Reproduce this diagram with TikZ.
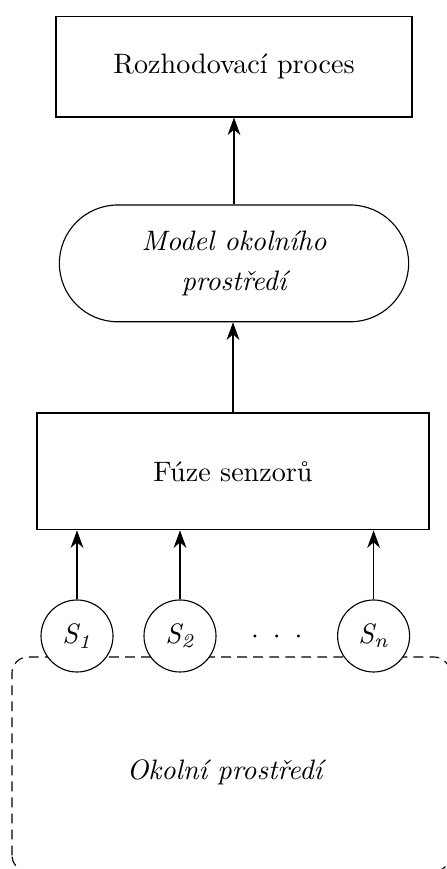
\documentclass[tikz,border=0pt]{standalone}
\usepackage{fontspec}
\usetikzlibrary{arrows.meta,shapes.misc}
\tikzset{
  blok/.style={draw, rectangle, minimum width=#1, minimum height=1.46cm, inner sep=0pt},
  senzor/.style={draw, circle, fill=white, minimum size=0.9cm, inner sep=0pt},
  sipka/.style={-{Stealth[length=2.2mm, width=1.6mm, inset=0.7mm]}}
}
\begin{document}
\begin{tikzpicture}
\useasboundingbox (0,0) rectangle (5.575,10.8625);
% okoli
\draw[dashed, dash pattern=on 3.5pt off 2.2pt, rounded corners=0.2cm] (0.15,-0.03) rectangle (5.625,2.65);
\node (okoli) at (2.83,1.21) {\textit{Okolní prostředí}};
% bloky
\node[blok=4.45cm, minimum height=1.26cm] (rozhod) at (2.925,10.03) {Rozhodovací proces};
\node[draw, rounded rectangle, minimum width=4.6cm, minimum height=1.46cm, align=center, font=\itshape] (model) at (2.925,7.57) {Model okolního\\[2pt]prostředí};
\node[blok=4.9cm] (fuze) at (2.9125,4.97) {Fúze senzorů};
\draw[sipka] (model.north) -- (rozhod.south);
\draw[sipka] (fuze.north) -- (fuze.north |- model.south);
% senzory
\foreach \x/\i in {0.9625/1, 2.25/2, 4.67/n} {
  \node[senzor] (s\i) at (\x,2.9125) {\textit{S\textsubscript{\i}}};
  \draw[sipka] (s\i.north) -- (s\i |- fuze.south);
}
\node[anchor=base, inner sep=0pt] (tecky) at (3.46,2.82) {$\cdot$\hspace{5pt}$\cdot$\hspace{5pt}$\cdot$};
\end{tikzpicture}
\end{document}
